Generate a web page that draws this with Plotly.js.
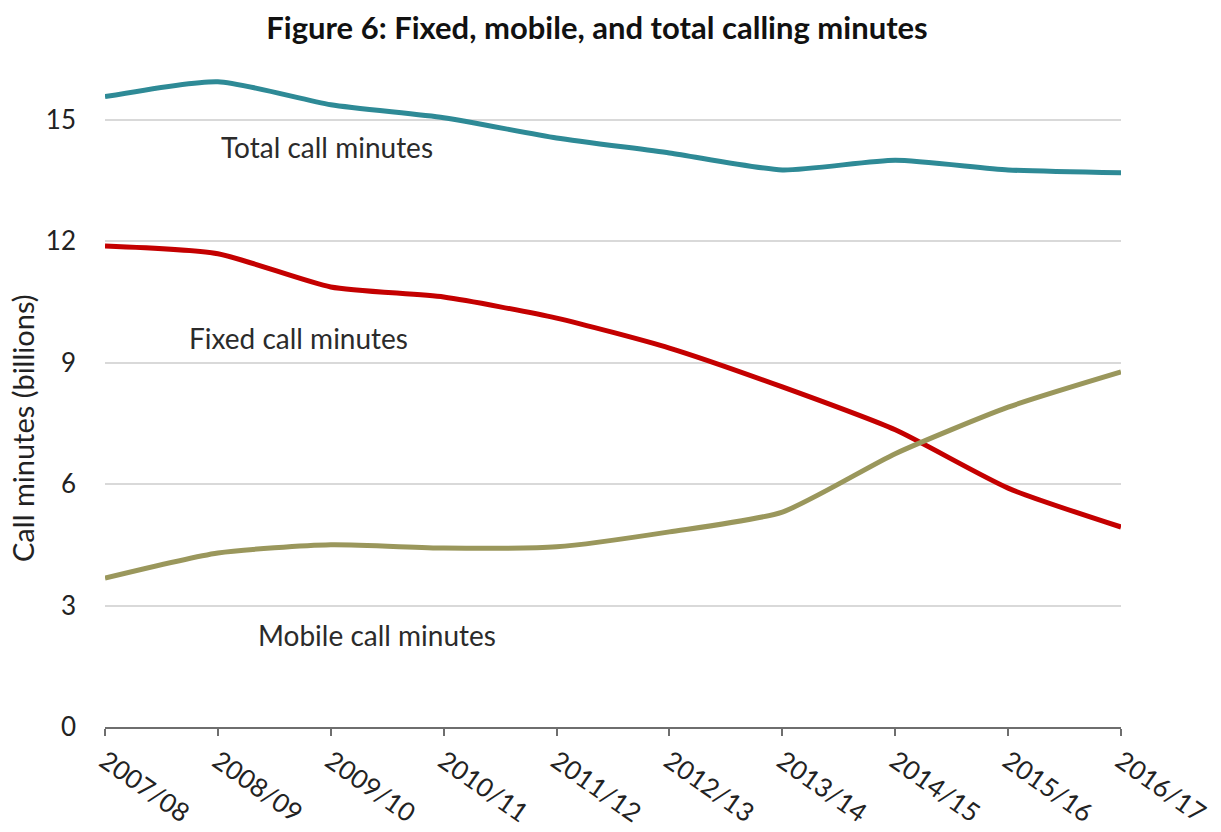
<!DOCTYPE html>
<html>
<head>
<meta charset="utf-8">
<script src="https://cdn.plot.ly/plotly-3.0.1.min.js"></script>
<style>html,body{margin:0;padding:0;background:#fff;}#chart{width:1221px;height:832px;}</style>
</head>
<body>
<div id="chart"></div>
<script>
const years = ["2007/08","2008/09","2009/10","2010/11","2011/12","2012/13","2013/14","2014/15","2015/16","2016/17"];
const totalMinutes = [15.57, 15.94, 15.37, 15.05, 14.55, 14.18, 13.76, 14.0, 13.76, 13.69];
const fixedMinutes = [11.88, 11.69, 10.87, 10.62, 10.1, 9.36, 8.4, 7.34, 5.9, 4.94];
const mobileMinutes = [3.68, 4.3, 4.5, 4.42, 4.45, 4.82, 5.31, 6.75, 7.9, 8.77];
const yTicks = [0, 3, 6, 9, 12, 15];

const fontFam = "Lato, 'Open Sans', sans-serif";
function line(y, color, name) {
  return {x: years, y: y, type: 'scatter', mode: 'lines', name: name,
    line: {color: color, width: 5, shape: 'spline', smoothing: 0.6}, cliponaxis: false, hoverinfo: 'skip'};
}
const data = [
  line(totalMinutes, '#2E8A96', 'Total call minutes'),
  line(fixedMinutes, '#C40000', 'Fixed call minutes'),
  line(mobileMinutes, '#9A975C', 'Mobile call minutes')
];
const L = 105, R = 1121, T = 59, B = 727;
const px = v => (v - L) / (R - L);
const py = v => (B - v) / (B - T);
const annFont = {size: 28, color: '#2b2b2b'};
const layout = {
  width: 1221, height: 832,
  margin: {l: L, r: 1221 - R, t: T, b: 832 - B},
  paper_bgcolor: '#fff', plot_bgcolor: '#fff',
  showlegend: false,
  font: {family: fontFam, color: '#222', size: 26},
  title: {text: 'Figure 6: Fixed, mobile, and total calling minutes', x: 597 / 1221, xanchor: 'center', y: 1 - 28 / 832, yanchor: 'middle',
    font: {family: fontFam, size: 31, color: '#111', weight: 'bold'}},
  xaxis: {type: 'category', range: [0, 9], showgrid: false, zeroline: false,
    showline: true, linecolor: '#6e6e6e', linewidth: 2,
    ticks: 'outside', ticklen: 7, tickwidth: 2, tickcolor: '#6e6e6e',
    tickangle: 35, tickfont: {size: 26, color: '#222'}},
  yaxis: {range: [0, 16.5], tickvals: yTicks, ticktext: yTicks.map(String),
    showgrid: true, gridcolor: '#d9d9d9', gridwidth: 2, zeroline: false, showline: false,
    ticks: '', ticklabelstandoff: 28, tickfont: {size: 26, color: '#222'}},
  annotations: [
    {text: 'Call minutes (billions)', xref: 'paper', yref: 'paper', x: px(22), y: py(428), textangle: -90,
      xanchor: 'center', yanchor: 'middle', showarrow: false, font: {size: 29, color: '#222'}},
    {text: 'Total call minutes', xref: 'paper', yref: 'paper', x: px(327), y: py(147), xanchor: 'center', yanchor: 'middle', showarrow: false, font: annFont},
    {text: 'Fixed call minutes', xref: 'paper', yref: 'paper', x: px(298), y: py(338), xanchor: 'center', yanchor: 'middle', showarrow: false, font: annFont},
    {text: 'Mobile call minutes', xref: 'paper', yref: 'paper', x: px(377), y: py(635), xanchor: 'center', yanchor: 'middle', showarrow: false, font: annFont}
  ]
};
Plotly.newPlot('chart', data, layout, {displayModeBar: false, staticPlot: true});
</script>
</body>
</html>
